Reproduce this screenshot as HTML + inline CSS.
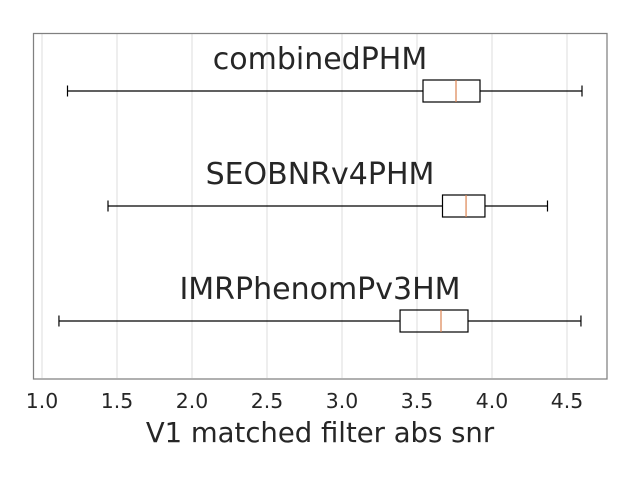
<!DOCTYPE html>
<html><head><meta charset="utf-8"><style>
body{margin:0;background:#fff;}
svg{display:block;font-family:"DejaVu Sans","Liberation Sans",sans-serif;}
</style></head><body>
<svg id="chart" width="640" height="480">
<rect x="0" y="0" width="640" height="480" fill="#fff"/>
<g id="grid"></g>
<g id="boxes"></g>
<rect x="33.5" y="33.5" width="573.5" height="345.5" fill="none" stroke="#808080" stroke-width="1.25"/>
<g id="ticks"></g>
<text x="320" y="442" text-anchor="middle" font-size="27.5" fill="#262626">V1 matched filter abs snr</text>
</svg>
<script>
const categories = ["combinedPHM", "SEOBNRv4PHM", "IMRPhenomPv3HM"];
const whiskerLow = [1.17, 1.44, 1.113];
const q1 = [3.54, 3.67, 3.387];
const medians = [3.76, 3.827, 3.66];
const q3 = [3.92, 3.953, 3.84];
const whiskerHigh = [4.6, 4.37, 4.593];
const tickValues = [1.0, 1.5, 2.0, 2.5, 3.0, 3.5, 4.0, 4.5];
const tickLabels = ["1.0","1.5","2.0","2.5","3.0","3.5","4.0","4.5"];

const NS = "http://www.w3.org/2000/svg";
function x(v){ return 42 + (v - 1) * 150; }
function yc(i){ return 91 + i * 115; }
function mk(tag, attrs, parent){
  const e = document.createElementNS(NS, tag);
  for (const k in attrs) e.setAttribute(k, attrs[k]);
  parent.appendChild(e);
  return e;
}
const grid = document.getElementById('grid');
const ticks = document.getElementById('ticks');
tickValues.forEach((v, i) => {
  const g = mk('line', {x1: x(v), x2: x(v), y1: 34, y2: 378, stroke: '#dcdcdc', 'stroke-width': 1}, grid);
  
  
  const t = mk('text', {x: x(v), y: 408, 'text-anchor': 'middle', 'font-size': 20.4, fill: '#262626'}, ticks);
  t.textContent = tickLabels[i];
  
  
});
const boxes = document.getElementById('boxes');
categories.forEach((c, i) => {
  const y = yc(i);
  const g = mk('g', {}, boxes);
  
  
  const s = {stroke: '#000', 'stroke-width': 1.2};
  mk('line', Object.assign({x1: x(whiskerLow[i]), x2: x(q1[i]), y1: y, y2: y}, s), g);
  mk('line', Object.assign({x1: x(q3[i]), x2: x(whiskerHigh[i]), y1: y, y2: y}, s), g);
  mk('line', Object.assign({x1: x(whiskerLow[i]), x2: x(whiskerLow[i]), y1: y - 5.5, y2: y + 5.5}, s), g);
  mk('line', Object.assign({x1: x(whiskerHigh[i]), x2: x(whiskerHigh[i]), y1: y - 5.5, y2: y + 5.5}, s), g);
  mk('rect', Object.assign({x: x(q1[i]), y: y - 11, width: x(q3[i]) - x(q1[i]), height: 22, fill: 'none'}, s), g);
  mk('line', {x1: x(medians[i]), x2: x(medians[i]), y1: y - 11, y2: y + 11, stroke: '#dd8452', 'stroke-width': 1.2}, g);
  const t = mk('text', {x: 320, y: y - 22, 'text-anchor': 'middle', 'font-size': 30, fill: '#262626'}, g);
  t.textContent = c;
  
  
});
</script>
</body></html>
